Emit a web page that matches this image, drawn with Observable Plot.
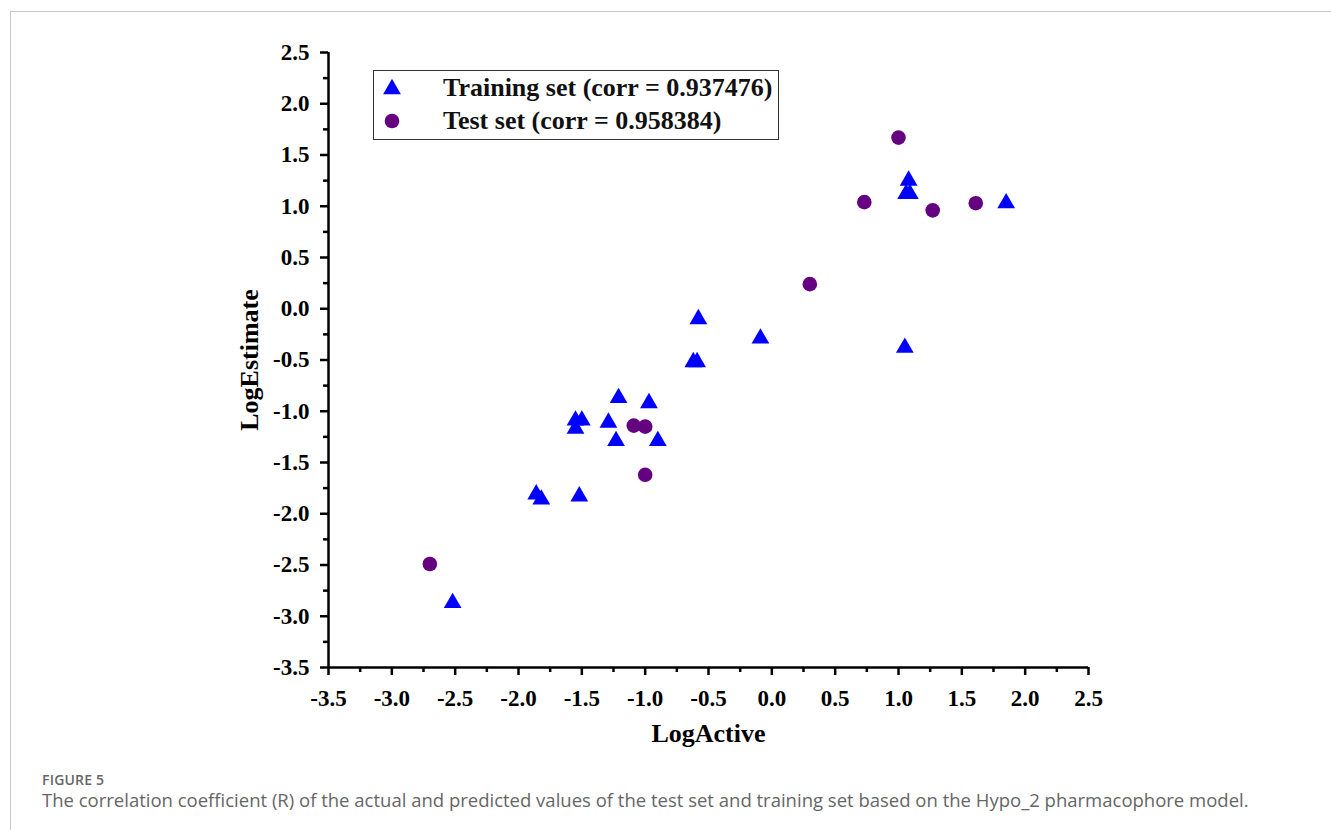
<!DOCTYPE html>
<html>
<head>
<meta charset="utf-8">
<script src="https://cdn.jsdelivr.net/npm/d3@7"></script>
<script src="https://cdn.jsdelivr.net/npm/@observablehq/plot@0.6"></script>
<style>
  html, body { margin: 0; padding: 0; background: #fff; width: 1331px; height: 830px; overflow: hidden; }
  #frame { position: absolute; left: 10px; top: 11px; right: -2px; bottom: -2px; border-left: 1px solid #c8c8c8; border-top: 1px solid #c8c8c8; }
  #chart { position: absolute; left: 0; top: 0; }
  #legend { position: absolute; left: 373px; top: 70px; width: 404px; height: 68px; border: 1.2px solid #333; background: #fff;
            font-family: "Liberation Serif", "Times New Roman", serif; font-weight: bold; font-size: 26px; color: #111; }
  #legend .row { position: absolute; left: 0; height: 32px; display: flex; align-items: center; }
  #legend svg { position: absolute; left: 7px; }
  #legend span { position: absolute; left: 69px; white-space: nowrap; }
  #figlabel { position: absolute; left: 42px; top: 773px; line-height: 14px; font-family: "Open Sans", sans-serif; font-weight: 600; font-size: 14px; color: #666; letter-spacing: 0.2px; }
  #caption { position: absolute; left: 42px; top: 790px; line-height: 20px; font-family: "Open Sans", sans-serif; font-size: 18.5px; color: #666; white-space: nowrap; }
</style>
</head>
<body>
<div id="frame"></div>
<div id="chart"></div>
<div id="legend"></div>
<div id="figlabel"></div>
<div id="caption"></div>
<script>
// ---- data ----
const trainX = [-2.52, -1.86, -1.82, -1.52, -1.55, -1.50, -1.55, -1.29, -1.21, -1.23, -0.97, -0.90, -0.58, -0.62, -0.59, -0.09, 1.05, 1.08, 1.06, 1.09, 1.85];
const trainY = [-2.87, -1.81, -1.86, -1.83, -1.09, -1.09, -1.17, -1.11, -0.87, -1.29, -0.92, -1.29, -0.10, -0.52, -0.52, -0.29, -0.38, 1.25, 1.12, 1.12, 1.03];
const testX = [-2.70, -1.09, -1.00, -1.00, 0.30, 1.00, 0.73, 1.27, 1.61];
const testY = [-2.49, -1.14, -1.15, -1.62, 0.24, 1.67, 1.04, 0.96, 1.03];
const trainLabel = "Training set (corr = 0.937476)";
const testLabel = "Test set (corr = 0.958384)";
const xTitle = "LogActive";
const yTitle = "LogEstimate";
const majorTicks = [-3.5, -3.0, -2.5, -2.0, -1.5, -1.0, -0.5, 0.0, 0.5, 1.0, 1.5, 2.0, 2.5];
const minorTicks = [-3.25, -2.75, -2.25, -1.75, -1.25, -0.75, -0.25, 0.25, 0.75, 1.25, 1.75, 2.25];
const figLabel = "FIGURE 5";
const captionText = "The correlation coefficient (R) of the actual and predicted values of the test set and training set based on the Hypo_2 pharmacophore model.";

const trainColor = "#0000ff";
const testColor = "#650080";

const train = trainX.map((x, i) => ({x, y: trainY[i]}));
const test = testX.map((x, i) => ({x, y: testY[i]}));
const fmt = d => d.toFixed(1);

const chart = Plot.plot({
  width: 1331,
  height: 760,
  marginLeft: 328,
  marginRight: 243,
  marginTop: 52,
  marginBottom: 93,
  x: {domain: [-3.5, 2.5]},
  y: {domain: [-3.5, 2.5]},
  style: {fontFamily: "'Liberation Serif', 'Times New Roman', serif", fontWeight: "bold", color: "#000", background: "transparent", overflow: "visible"},
  marks: [
    Plot.axisX(majorTicks, {tickSize: 8, tickPadding: 14, tickFormat: fmt, fontSize: 23, strokeWidth: 2.5, label: null}),
    Plot.axisX(minorTicks, {tickSize: 5, tickFormat: () => "", strokeWidth: 2.5, label: null}),
    Plot.axisY(majorTicks, {tickSize: 8, tickPadding: 11, tickFormat: fmt, fontSize: 23, strokeWidth: 2.5, label: null}),
    Plot.axisY(minorTicks, {tickSize: 5, tickFormat: () => "", strokeWidth: 2.5, label: null}),
    Plot.ruleX([-3.5], {strokeWidth: 2.5}),
    Plot.ruleY([-3.5], {strokeWidth: 2.5}),
    Plot.dot(train, {x: "x", y: "y", symbol: "triangle", r: 6.6, fill: trainColor, stroke: "none"}),
    Plot.dot(test, {x: "x", y: "y", symbol: "circle", r: 7.3, fill: testColor, stroke: "none"}),
    Plot.text([xTitle], {frameAnchor: "bottom", dy: 74, fontSize: 26, fontWeight: "bold", fill: "#000", textAnchor: "middle"}),
    Plot.text([yTitle], {frameAnchor: "left", dx: -79, rotate: -90, fontSize: 26, fontWeight: "bold", fill: "#000", textAnchor: "middle"})
  ]
});
document.getElementById("chart").appendChild(chart);

// legend
const legend = document.getElementById("legend");
function row(top, label, sym) {
  const r = document.createElement("div");
  r.className = "row";
  r.style.top = top + "px";
  r.style.width = "100%";
  const s = d3.create("svg").attr("width", 22).attr("height", 22);
  if (sym === "triangle") {
    s.append("path").attr("transform", "translate(11,12)").attr("d", d3.symbol(d3.symbolTriangle, Math.PI * 6.6 * 6.6)()).attr("fill", trainColor);
  } else {
    s.append("circle").attr("cx", 11).attr("cy", 11).attr("r", 7.3).attr("fill", testColor);
  }
  r.appendChild(s.node());
  const t = document.createElement("span");
  t.textContent = label;
  r.appendChild(t);
  legend.appendChild(r);
}
row(1, trainLabel, "triangle");
row(34, testLabel, "circle");

document.getElementById("figlabel").textContent = figLabel;
document.getElementById("caption").textContent = captionText;
</script>
</body>
</html>
